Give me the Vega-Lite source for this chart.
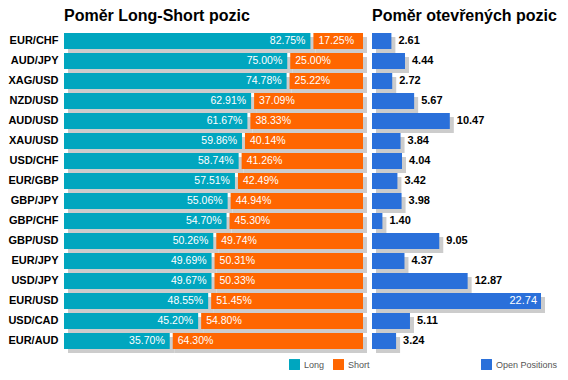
{
  "$schema": "https://vega.github.io/schema/vega-lite/v6.json",
  "background": "white",
  "padding": {"left": 7, "top": 8, "right": 0, "bottom": 0},
  "spacing": 2,
  "config": {
    "view": {"stroke": null},
    "font": "Liberation Sans",
    "title": {"font": "Liberation Sans", "fontSize": 16, "fontWeight": "bold", "color": "#000000", "anchor": "start", "frame": "group", "offset": 7},
    "legend": {"labelFont": "Liberation Sans"}
  },
  "data": {
    "values": [
      {"pair": "EUR/CHF", "long": 0.8275, "short": 0.1725, "open": 2.61},
      {"pair": "AUD/JPY", "long": 0.7500, "short": 0.2500, "open": 4.44},
      {"pair": "XAG/USD", "long": 0.7478, "short": 0.2522, "open": 2.72},
      {"pair": "NZD/USD", "long": 0.6291, "short": 0.3709, "open": 5.67},
      {"pair": "AUD/USD", "long": 0.6167, "short": 0.3833, "open": 10.47},
      {"pair": "XAU/USD", "long": 0.5986, "short": 0.4014, "open": 3.84},
      {"pair": "USD/CHF", "long": 0.5874, "short": 0.4126, "open": 4.04},
      {"pair": "EUR/GBP", "long": 0.5751, "short": 0.4249, "open": 3.42},
      {"pair": "GBP/JPY", "long": 0.5506, "short": 0.4494, "open": 3.98},
      {"pair": "GBP/CHF", "long": 0.5470, "short": 0.4530, "open": 1.40},
      {"pair": "GBP/USD", "long": 0.5026, "short": 0.4974, "open": 9.05},
      {"pair": "EUR/JPY", "long": 0.4969, "short": 0.5031, "open": 4.37},
      {"pair": "USD/JPY", "long": 0.4967, "short": 0.5033, "open": 12.87},
      {"pair": "EUR/USD", "long": 0.4855, "short": 0.5145, "open": 22.74},
      {"pair": "USD/CAD", "long": 0.4520, "short": 0.5480, "open": 5.11},
      {"pair": "EUR/AUD", "long": 0.3570, "short": 0.6430, "open": 3.24}
    ]
  },
  "resolve": {"scale": {"color": "independent"}, "legend": {"color": "independent"}},
  "hconcat": [
    {
      "width": 299,
      "height": 320,
      "title": {"text": "Poměr Long-Short pozic"},
      "encoding": {
        "y": {"field": "pair", "type": "nominal", "sort": null,
          "scale": {"paddingInner": 0.2, "paddingOuter": 0.1},
          "axis": {"title": null, "ticks": false, "domain": false, "grid": false, "labelFontSize": 11, "labelFontWeight": "bold", "labelColor": "#000000", "labelPadding": 6, "labelFont": "Liberation Sans"}}
      },
      "layer": [
        {
          "mark": {"type": "bar", "color": "#cccccc", "xOffset": 4, "x2Offset": 4, "yOffset": 4},
          "encoding": {
            "x": {"field": "long", "type": "quantitative", "scale": {"domain": [0, 1], "nice": false}, "axis": null},
            "x2": {"datum": 0}
          }
        },
        {
          "mark": {"type": "bar", "color": "#cccccc", "xOffset": 4, "x2Offset": 4, "yOffset": 4},
          "encoding": {
            "x": {"field": "long", "type": "quantitative", "axis": null},
            "x2": {"datum": 1}
          }
        },
        {
          "mark": {"type": "bar", "xOffset": -1},
          "encoding": {
            "x": {"field": "long", "type": "quantitative", "axis": null},
            "x2": {"datum": 0},
            "color": {"datum": "Long", "type": "nominal",
              "scale": {"domain": ["Long", "Short"], "range": ["#00a6bf", "#ff6600"]},
              "legend": {"title": null, "orient": "none", "legendX": 225, "legendY": 328, "direction": "horizontal", "symbolType": "square", "symbolSize": 120, "symbolStrokeWidth": 0, "labelFontSize": 9, "labelColor": "#555555", "labelOffset": 4, "columnPadding": 8}}
          }
        },
        {
          "mark": {"type": "bar", "xOffset": 2},
          "encoding": {
            "x": {"field": "long", "type": "quantitative", "axis": null},
            "x2": {"datum": 1},
            "color": {"datum": "Short", "type": "nominal"}
          }
        },
        {
          "mark": {"type": "text", "align": "right", "baseline": "middle", "dx": -6, "color": "white", "fontSize": 10.5, "font": "Liberation Sans"},
          "encoding": {
            "x": {"field": "long", "type": "quantitative", "axis": null},
            "text": {"field": "long", "type": "quantitative", "format": ".2%"}
          }
        },
        {
          "mark": {"type": "text", "align": "left", "baseline": "middle", "dx": 7, "color": "white", "fontSize": 10.5, "font": "Liberation Sans"},
          "encoding": {
            "x": {"field": "long", "type": "quantitative", "axis": null},
            "text": {"field": "short", "type": "quantitative", "format": ".2%"}
          }
        }
      ]
    },
    {
      "width": 169,
      "height": 320,
      "title": {"text": "Poměr otevřených pozic"},
      "encoding": {
        "y": {"field": "pair", "type": "nominal", "sort": null,
          "scale": {"paddingInner": 0.2, "paddingOuter": 0.1},
          "axis": null}
      },
      "layer": [
        {
          "mark": {"type": "bar", "color": "#cccccc", "xOffset": 4, "x2Offset": 4, "yOffset": 4},
          "encoding": {
            "x": {"field": "open", "type": "quantitative", "scale": {"domain": [0, 22.74], "nice": false}, "axis": null},
            "x2": {"datum": 0}
          }
        },
        {
          "mark": {"type": "bar"},
          "encoding": {
            "x": {"field": "open", "type": "quantitative", "axis": null},
            "x2": {"datum": 0},
            "color": {"datum": "Open Positions", "type": "nominal",
              "scale": {"domain": ["Open Positions"], "range": ["#2a70da"]},
              "legend": {"title": null, "orient": "none", "legendX": 109, "legendY": 328, "direction": "horizontal", "symbolType": "square", "symbolSize": 120, "symbolStrokeWidth": 0, "labelFontSize": 9, "labelColor": "#555555", "labelOffset": 4}}
          }
        },
        {
          "transform": [{"filter": "datum.open < 20"}],
          "mark": {"type": "text", "align": "left", "baseline": "middle", "dx": 7, "color": "#000000", "fontSize": 11, "fontWeight": "bold", "font": "Liberation Sans"},
          "encoding": {
            "x": {"field": "open", "type": "quantitative", "axis": null},
            "text": {"field": "open", "type": "quantitative", "format": ".2f"}
          }
        },
        {
          "transform": [{"filter": "datum.open >= 20"}],
          "mark": {"type": "text", "align": "right", "baseline": "middle", "dx": -4, "color": "white", "fontSize": 11, "font": "Liberation Sans"},
          "encoding": {
            "x": {"field": "open", "type": "quantitative", "axis": null},
            "text": {"field": "open", "type": "quantitative", "format": ".2f"}
          }
        }
      ]
    }
  ]
}
